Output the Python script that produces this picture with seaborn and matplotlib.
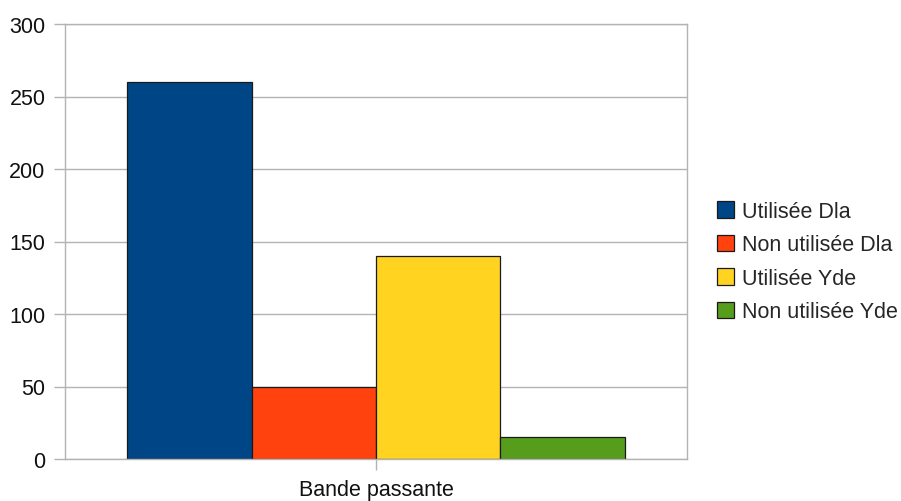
import matplotlib
matplotlib.use("Agg")
import matplotlib.pyplot as plt
import seaborn as sns
import pandas as pd
from matplotlib.patches import Patch

# Bandwidth usage per site
categories = ["Bande passante"]
series = ["Utilisée Dla", "Non utilisée Dla", "Utilisée Yde", "Non utilisée Yde"]
values = [260, 50, 140, 15]
colors = ["#004586", "#ff420e", "#ffd320", "#579d1c"]
y_ticks = [0, 50, 100, 150, 200, 250, 300]

sns.set_theme(style="white")
plt.rcParams["font.family"] = ["Liberation Sans", "DejaVu Sans"]

df = pd.DataFrame({
    "categorie": categories * len(series),
    "serie": series,
    "valeur": values,
})

fig = plt.figure(figsize=(9.01, 5.02), dpi=100)
ax = fig.add_axes([65 / 901, (502 - 460) / 502, (687 - 65) / 901, (460 - 25) / 502])

sns.barplot(
    data=df, x="categorie", y="valeur", hue="serie",
    hue_order=series, palette=colors, width=0.8,
    edgecolor="#1a1a1a", linewidth=0.9, saturation=1, ax=ax, legend=False,
)

grid_color = "#b3b3b3"
ax.set_ylim(0, 300)
ax.set_xlim(-0.5, 0.5)
ax.set_yticks(y_ticks)
ax.yaxis.grid(True, color=grid_color, linewidth=1)
ax.set_axisbelow(True)
for s in ax.spines.values():
    s.set_color(grid_color)
    s.set_linewidth(1)
ax.set_xlabel("")
ax.set_ylabel("")
ax.tick_params(axis="y", which="both", direction="out", length=8, width=1,
               color=grid_color, labelsize=15.5, pad=6, left=True)
ax.tick_params(axis="x", direction="out", length=8, width=1,
               color=grid_color, labelsize=15.5, pad=6.5, bottom=True)
for lbl in ax.get_xticklabels() + ax.get_yticklabels():
    lbl.set_color("#111111")

handles = [Patch(facecolor=c, edgecolor="#1a1a1a", linewidth=0.9) for c in colors]
fig.legend(
    handles, series, loc="upper left", bbox_to_anchor=(717 / 901, 1 - 202 / 502),
    frameon=False, fontsize=15.5, handlelength=0.78, handleheight=0.78,
    handletextpad=0.4, labelspacing=0.58, borderaxespad=0, borderpad=0,
)

fig.savefig("out.png", dpi=100)
